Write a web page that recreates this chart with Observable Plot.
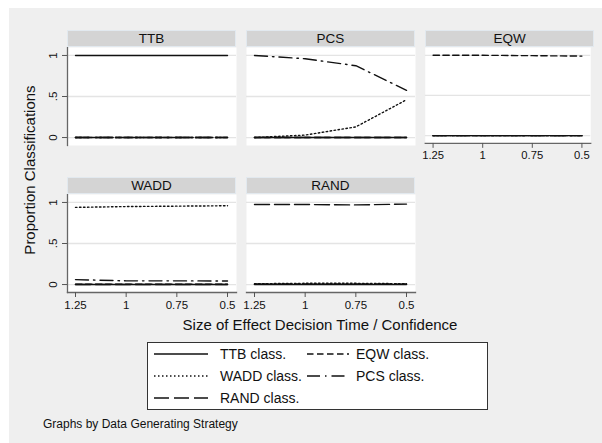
<!DOCTYPE html>
<html><head><meta charset="utf-8">
<script src="https://cdn.jsdelivr.net/npm/d3@7"></script>
<script src="https://cdn.jsdelivr.net/npm/@observablehq/plot@0.6"></script>
<style>
body{margin:0;background:#fff;font-family:"Liberation Sans",Arial,sans-serif;}
#root{position:relative;width:602px;height:443px;overflow:hidden;background:#fff;}
#bg{position:absolute;left:9px;top:8px;right:0;bottom:0;background:#efefef;}
.hdr{position:absolute;height:17px;background:#d4d4d4;box-sizing:border-box;border:1px solid #e2e9ef;font-size:13.5px;text-align:center;line-height:15px;color:#111;}
.abs{position:absolute;}
.plotbox{position:absolute;}
</style></head><body><div id="root"><div id="bg"></div></div>
<script>
// ---- data ----
const xValues = [1.25, 1, 0.75, 0.5];
const xTickLabels = ["1.25", "1", "0.75", "0.5"];
const yTicks = [0, 0.5, 1];
const yTickLabels = ["0", ".5", "1"];
const strategies = ["TTB", "PCS", "EQW", "WADD", "RAND"];
const classNames = ["TTB class.", "EQW class.", "WADD class.", "PCS class.", "RAND class."];
// values per panel, rows in classNames order: TTB, EQW, WADD, PCS, RAND
const panelTTB  = [[1, 1, 1, 1], [0, 0, 0, 0], [0, 0, 0, 0], [0, 0, 0, 0], [0, 0, 0, 0]];
const panelPCS  = [[0, 0, 0, 0], [0, 0, 0, 0], [0, 0.03, 0.13, 0.46], [1, 0.96, 0.875, 0.575], [0, 0, 0, 0]];
const panelEQW  = [[0, 0, 0, 0], [1, 1, 0.995, 0.99], [0, 0, 0, 0], [0, 0, 0, 0], [0, 0, 0, 0]];
const panelWADD = [[0, 0, 0, 0], [0.005, 0.005, 0.005, 0.005], [0.94, 0.95, 0.955, 0.96], [0.06, 0.045, 0.045, 0.043], [0, 0, 0, 0]];
const panelRAND = [[0, 0, 0, 0], [0.005, 0.005, 0.005, 0.005], [0.01, 0.015, 0.015, 0.01], [0.005, 0.005, 0.005, 0.005], [0.975, 0.975, 0.97, 0.98]];
const panelValues = [panelTTB, panelPCS, panelEQW, panelWADD, panelRAND];
const xTitle = "Size of Effect Decision Time / Confidence";
const yTitle = "Proportion Classifications";
const note = "Graphs by Data Generating Strategy";

// ---- style ----
const dashes = {"TTB class.": null, "EQW class.": "6.5,3.5", "WADD class.": "1.5,2.5", "PCS class.": "13,5,1.5,5", "RAND class.": "15,5"};
const colLefts = [67, 246, 425];
const rowTops = [47, 194];
const hdrTops = [30, 177];
const panelW = 169, panelH = 98;
const FONT = '"Liberation Sans", Arial, sans-serif';

const root = document.getElementById("root");

strategies.forEach((s, si) => {
  const col = si % 3, row = Math.floor(si / 3);
  const showY = col === 0;
  const showX = row === 1 || col === 2;
  const mL = showY ? 60 : 12, mR = 12, mB = 28;
  const data = [];
  classNames.forEach((c, ci) => xValues.forEach((x, xi) => data.push({cls: c, x, y: panelValues[si][ci][xi]})));
  const marks = [
    Plot.frame({fill: "white", stroke: null}),
    Plot.gridY(yTicks, {stroke: "#e4e4e4", strokeOpacity: 1, strokeWidth: 1.3}),
    ...classNames.map(c => Plot.line(data.filter(d => d.cls === c), {
      x: "x", y: "y", stroke: "#111", strokeWidth: 1.4,
      strokeDasharray: dashes[c] || undefined
    }))
  ];
  if (showY) {
    marks.push(Plot.frame({anchor: "left", stroke: "#666", strokeWidth: 1.3}));
    marks.push(Plot.axisY(yTicks, {
      tickFormat: d => yTickLabels[yTicks.indexOf(d)], tickRotate: -90,
      tickSize: 5, tickPadding: 6, stroke: "#555", fontSize: 11.5, fill: "#111", label: null
    }));
  } else {
    marks.push(Plot.axisY({ticks: [], label: null}));
  }
  if (showX) {
    marks.push(Plot.frame({anchor: "bottom", stroke: "#666", strokeWidth: 1.3}));
    marks.push(Plot.axisX(xValues, {
      tickFormat: d => xTickLabels[xValues.indexOf(d)],
      tickSize: 5, tickPadding: 3, stroke: "#555", fontSize: 11.5, fill: "#111", label: null
    }));
  } else {
    marks.push(Plot.axisX({ticks: [], label: null}));
  }
  const chart = Plot.plot({
    width: panelW + mL + mR,
    height: panelH + mB,
    marginLeft: mL, marginRight: mR, marginTop: 0, marginBottom: mB,
    style: {fontFamily: FONT, fontSize: "11.5px", background: "transparent", color: "#111", overflow: "visible"},
    x: {domain: [1.2895, 0.4556], label: null},
    y: {domain: [-0.097, 1.097], label: null},
    marks
  });
  const box = document.createElement("div");
  box.className = "plotbox";
  box.style.left = (colLefts[col] - mL) + "px";
  box.style.top = rowTops[row] + "px";
  box.appendChild(chart);
  root.appendChild(box);

  const h = document.createElement("div");
  h.className = "hdr";
  h.style.left = colLefts[col] + "px";
  h.style.top = hdrTops[row] + "px";
  h.style.width = panelW + "px";
  h.textContent = s;
  root.appendChild(h);
});

// axis titles
const xt = document.createElement("div");
xt.className = "abs";
Object.assign(xt.style, {left: "120px", width: "400px", top: "316px", textAlign: "center", fontSize: "15px", color: "#111", lineHeight: "18px"});
xt.textContent = xTitle;
root.appendChild(xt);

const yt = document.createElement("div");
yt.className = "abs";
Object.assign(yt.style, {left: "-70px", width: "200px", top: "161px", textAlign: "center", fontSize: "15px", color: "#111", lineHeight: "18px", transform: "rotate(-90deg)"});
yt.textContent = yTitle;
root.appendChild(yt);

// legend
const lg = document.createElement("div");
lg.className = "abs";
Object.assign(lg.style, {left: "147px", top: "342px", width: "341px", height: "68px", background: "white", border: "1px solid #333", boxSizing: "border-box"});
root.appendChild(lg);
classNames.forEach((c, i) => {
  const col = i % 2, row = Math.floor(i / 2);
  const cy = 11 + row * 22;
  const sx = col ? 159 : 6;
  const sw = col ? 42 : 54;
  const svg = d3.create("svg").attr("width", sw).attr("height", 10)
    .style("position", "absolute").style("left", sx + "px").style("top", (cy - 5) + "px");
  svg.append("line").attr("x1", 0).attr("x2", sw).attr("y1", 5).attr("y2", 5)
    .attr("stroke", "#111").attr("stroke-width", 1.3)
    .attr("stroke-dasharray", dashes[c] || null);
  lg.appendChild(svg.node());
  const t = document.createElement("div");
  t.className = "abs";
  Object.assign(t.style, {left: (col ? 208 : 72) + "px", top: (cy - 9) + "px", fontSize: "14px", lineHeight: "18px", color: "#111", whiteSpace: "nowrap"});
  t.textContent = c;
  lg.appendChild(t);
});

const nt = document.createElement("div");
nt.className = "abs";
Object.assign(nt.style, {left: "43px", top: "417px", fontSize: "12px", lineHeight: "14px", color: "#111", whiteSpace: "nowrap"});
nt.textContent = note;
root.appendChild(nt);
</script></body></html>
